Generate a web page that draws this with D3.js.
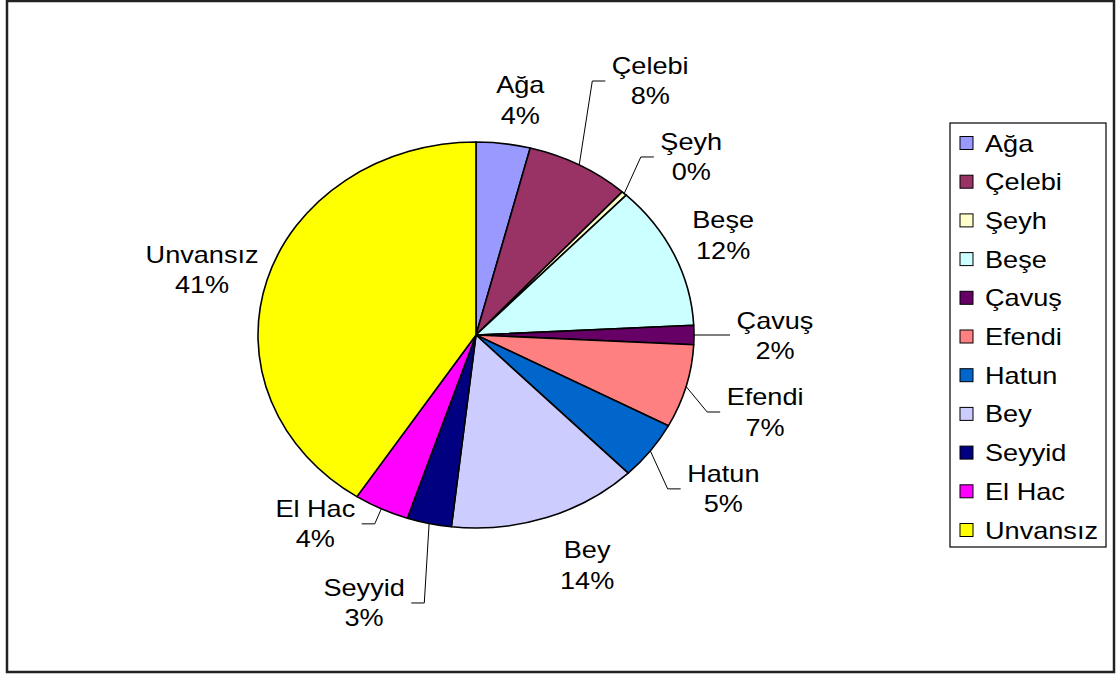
<!DOCTYPE html>
<html>
<head>
<meta charset="utf-8">
<script src="https://cdn.jsdelivr.net/npm/d3@7/dist/d3.min.js"></script>
<style>
  html, body { margin: 0; padding: 0; background: #fff; }
  svg { display: block; }
  text { font-family: "Liberation Sans", Arial, sans-serif; fill: #000; }
</style>
</head>
<body>
<svg id="chart" width="1117" height="675"></svg>
<script>
// ---- data ----
const categories = ["Ağa", "Çelebi", "Şeyh", "Beşe", "Çavuş", "Efendi", "Hatun", "Bey", "Seyyid", "El Hac", "Unvansız"];
const values     = [4.0, 7.7, 0.4, 12.1, 1.6, 7.0, 4.9, 14.1, 3.3, 4.1, 40.8];
const colors     = ["#9999FF", "#993366", "#FFFFCC", "#CCFFFF", "#660066", "#FF8080", "#0066CC", "#CCCCFF", "#000080", "#FF00FF", "#FFFF00"];

// ---- layout (label offsets relative to slice edge anchor, leader flags) ----
const labelOffsets = [[17, -43.5], [71, -84], [67, -36.5], [49, -19], [81, 0.5], [79, 25.5], [73, 38], [40.5, 47.5], [-65, 79.5], [-66, 15], [-65, -10]];
const hasLeader    = [false, true, true, false, true, true, true, false, true, true, false];

const W = 1117, H = 675;
const cx = 476, cy = 335, ry = 193, rx = 218;
const sx = rx / ry;           // horizontal stretch of the whole picture
const fontSize = 24;

const svg = d3.select("#chart");

// outer frame
svg.append("rect").attr("x", 7).attr("y", 1).attr("width", 1107).attr("height", 671)
  .attr("fill", "#fff").attr("stroke", "#222").attr("stroke-width", 2.5);

const total = d3.sum(values);
const pie = d3.pie().sort(null).value(d => d)(values);
const arc = d3.arc().innerRadius(0).outerRadius(ry);

const g = svg.append("g").attr("transform", `translate(${cx},${cy}) scale(${sx},1)`);
g.selectAll("path").data(pie).join("path")
  .attr("d", arc)
  .attr("fill", (d, i) => colors[i])
  .attr("stroke", "#000")
  .attr("stroke-width", 1.6)
  .attr("vector-effect", "non-scaling-stroke")
  .attr("stroke-linejoin", "round");

// labels
const lg = svg.append("g");
pie.forEach((d, i) => {
  const a = (d.startAngle + d.endAngle) / 2;
  const ax = cx + rx * Math.sin(a), ay = cy - ry * Math.cos(a);
  const lx = ax + labelOffsets[i][0], ly = ay + labelOffsets[i][1];
  const grp = lg.append("g").attr("transform", `translate(${lx},${ly}) scale(${sx},1)`);
  const t1 = grp.append("text").attr("x", 0).attr("y", -7).attr("text-anchor", "middle")
    .attr("font-size", fontSize).text(categories[i]);
  const t2 = grp.append("text").attr("x", 0).attr("y", 23.5).attr("text-anchor", "middle")
    .attr("font-size", fontSize).text(Math.round(values[i] / total * 100) + "%");
  if (hasLeader[i]) {
    const w = Math.max(t1.node().getComputedTextLength(), t2.node().getComputedTextLength()) * sx;
    const side = labelOffsets[i][0] >= 0 ? 1 : -1;
    const edge = lx - side * w / 2;
    const endX = edge - side * 6.5;
    const bendX = endX - side * 13;
    const pts = Math.abs(ly - ay) < 3 ? [[ax, ay], [endX, ay]] : [[ax, ay], [bendX, ly], [endX, ly]];
    svg.append("path").attr("d", d3.line()(pts)).attr("fill", "none")
      .attr("stroke", "#000").attr("stroke-width", 1);
  }
});

// legend
const legX = 950, legY = 123, legW = 156, legH = 424;
svg.append("rect").attr("x", legX).attr("y", legY).attr("width", legW).attr("height", legH)
  .attr("fill", "#fff").attr("stroke", "#000").attr("stroke-width", 1.2);
const rowY = d3.scalePoint().domain(categories).range([143, 530]);
const leg = svg.append("g");
categories.forEach((c, i) => {
  const y = rowY(c);
  leg.append("rect").attr("x", 960).attr("y", y - 6.5).attr("width", 13).attr("height", 13)
    .attr("fill", colors[i]).attr("stroke", "#000").attr("stroke-width", 1);
  leg.append("g").attr("transform", `translate(985,${y + 8.5}) scale(${sx},1)`)
    .append("text").attr("font-size", fontSize).text(c);
});
</script>
</body>
</html>
